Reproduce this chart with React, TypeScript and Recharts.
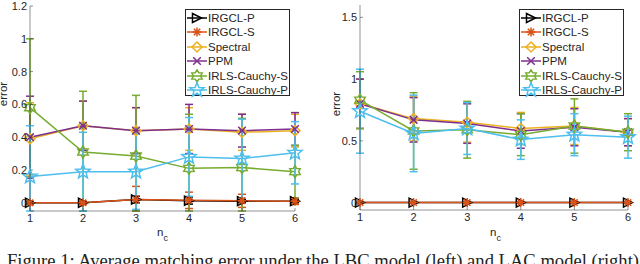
import React from 'react'
import { LineChart, Line, XAxis, YAxis, ErrorBar } from 'recharts'

const nc = [1, 2, 3, 4, 5, 6]

// left panel: LBC model
const lbcIrgclP = [0.0, 0.0, 0.02, 0.012, 0.01, 0.01]
const lbcIrgclPErr = [0.005, 0.005, 0.02, 0.02, 0.01, 0.01]
const lbcIrgclS = [0.0, 0.0, 0.02, 0.015, 0.012, 0.01]
const lbcIrgclSErr = [0.01, 0.01, 0.08, 0.05, 0.04, 0.02]
const lbcSpectral = [0.39, 0.47, 0.44, 0.45, 0.43, 0.44]
const lbcSpectralErr = [0.22, 0.15, 0.14, 0.13, 0.11, 0.1]
const lbcPpm = [0.4, 0.47, 0.44, 0.45, 0.44, 0.45]
const lbcPpmErr = [0.25, 0.15, 0.14, 0.15, 0.1, 0.1]
const lbcCauchyS = [0.58, 0.31, 0.285, 0.21, 0.215, 0.19]
const lbcCauchySErr = [0.42, 0.37, 0.37, 0.33, 0.3, 0.16]
const lbcCauchyP = [0.16, 0.19, 0.19, 0.28, 0.27, 0.305]
const lbcCauchyPErr = [0.31, 0.24, 0.23, 0.24, 0.24, 0.19]

// right panel: LAC model
const lacIrgclP = [0, 0, 0, 0, 0, 0]
const lacIrgclPErr = [0, 0, 0, 0, 0, 0]
const lacIrgclS = [0, 0, 0, 0, 0, 0]
const lacIrgclSErr = [0, 0, 0, 0, 0, 0]
const lacSpectral = [0.8, 0.68, 0.65, 0.6, 0.62, 0.57]
const lacSpectralErr = [0.2, 0.18, 0.16, 0.13, 0.15, 0.11]
const lacPpm = [0.8, 0.67, 0.64, 0.58, 0.61, 0.57]
const lacPpmErr = [0.2, 0.18, 0.16, 0.14, 0.15, 0.11]
const lacCauchyS = [0.83, 0.58, 0.59, 0.55, 0.62, 0.57]
const lacCauchySErr = [0.23, 0.31, 0.23, 0.17, 0.22, 0.15]
const lacCauchyP = [0.74, 0.56, 0.6, 0.51, 0.55, 0.53]
const lacCauchyPErr = [0.34, 0.31, 0.21, 0.16, 0.17, 0.17]

const leftTicks = [0, 0.2, 0.4, 0.6, 0.8, 1, 1.2]
const rightTicks = [0, 0.5, 1, 1.5]
const leftDomain = [-0.05, 1.2]
const rightDomain = [-0.06, 1.6]

const caption = 'Figure 1: Average matching error under the LBC model (left) and LAC model (right)'

const series = [
  { key: 'irgclP', name: 'IRGCL-P', color: '#000000', marker: 'triangle' },
  { key: 'irgclS', name: 'IRGCL-S', color: '#D95319', marker: 'asterisk' },
  { key: 'spectral', name: 'Spectral', color: '#EDB120', marker: 'diamond' },
  { key: 'ppm', name: 'PPM', color: '#7E2F8E', marker: 'cross' },
  { key: 'cauchyS', name: 'IRLS-Cauchy-S', color: '#77AC30', marker: 'hexagram' },
  { key: 'cauchyP', name: 'IRLS-Cauchy-P', color: '#4DBEEE', marker: 'pentagram' },
]

// error bars are clipped to the axes box, like matlab does
const buildRows = (vals: number[][], errs: number[][], domain: number[]) =>
  nc.map((n, i) => {
    const row: any = { nc: n }
    series.forEach((s, j) => {
      const v = vals[j][i]
      const e = errs[j][i]
      row[s.key] = v
      row[s.key + 'Err'] = [Math.min(e, v - domain[0]), Math.min(e, domain[1] - v)]
    })
    return row
  })

const lbcData = buildRows(
  [lbcIrgclP, lbcIrgclS, lbcSpectral, lbcPpm, lbcCauchyS, lbcCauchyP],
  [lbcIrgclPErr, lbcIrgclSErr, lbcSpectralErr, lbcPpmErr, lbcCauchySErr, lbcCauchyPErr],
  leftDomain
)
const lacData = buildRows(
  [lacIrgclP, lacIrgclS, lacSpectral, lacPpm, lacCauchyS, lacCauchyP],
  [lacIrgclPErr, lacIrgclSErr, lacSpectralErr, lacPpmErr, lacCauchySErr, lacCauchyPErr],
  rightDomain
)

const font = '"Liberation Sans", Arial, sans-serif'
const axisColor = '#262626'

const star = (cx: number, cy: number, n: number, r: number, ri: number) => {
  const pts: string[] = []
  for (let i = 0; i < n * 2; i++) {
    const a = -Math.PI / 2 + (i * Math.PI) / n
    const rr = i % 2 === 0 ? r : ri
    pts.push(`${cx + rr * Math.cos(a)},${cy + rr * Math.sin(a)}`)
  }
  return pts.join(' ')
}

function Marker({ cx, cy, type, color }: any) {
  const sw = 1.5
  if (type === 'triangle') {
    const s = 4.5
    return <polygon points={`${cx + s},${cy} ${cx - s},${cy - s} ${cx - s},${cy + s}`} fill="none" stroke={color} strokeWidth={sw} />
  }
  if (type === 'asterisk') {
    const s = 4.5
    const d = s * 0.72
    return (
      <path d={`M${cx - s},${cy}L${cx + s},${cy}M${cx},${cy - s}L${cx},${cy + s}M${cx - d},${cy - d}L${cx + d},${cy + d}M${cx - d},${cy + d}L${cx + d},${cy - d}`} stroke={color} strokeWidth={sw} />
    )
  }
  if (type === 'diamond') {
    const s = 5
    return <polygon points={`${cx},${cy - s} ${cx + s},${cy} ${cx},${cy + s} ${cx - s},${cy}`} fill="none" stroke={color} strokeWidth={sw} />
  }
  if (type === 'cross') {
    const s = 3.8
    return <path d={`M${cx - s},${cy - s}L${cx + s},${cy + s}M${cx - s},${cy + s}L${cx + s},${cy - s}`} stroke={color} strokeWidth={sw} />
  }
  if (type === 'hexagram') {
    return <polygon points={star(cx, cy, 6, 6, 3.6)} fill="none" stroke={color} strokeWidth={sw} />
  }
  return <polygon points={star(cx, cy, 5, 7.5, 3.2)} fill="none" stroke={color} strokeWidth={sw} />
}

const BottomTick = ({ x, y, payload }: any) => (
  <g>
    <line x1={x} x2={x} y1={y} y2={y - 3} stroke={axisColor} strokeWidth={0.5} />
    <text x={x} y={y + 11} textAnchor="middle" fontSize={11} fontFamily={font} fill={axisColor}>
      {payload.value}
    </text>
  </g>
)

const TopTick = ({ x, y }: any) => (
  <line x1={x} x2={x} y1={y} y2={y + 3} stroke={axisColor} strokeWidth={0.5} />
)

const LeftTick = ({ x, y, payload }: any) => (
  <g>
    <line x1={x} x2={x + 3} y1={y} y2={y} stroke={axisColor} strokeWidth={0.5} />
    <text x={x - 3} y={y + 4} textAnchor="end" fontSize={11} fontFamily={font} fill={axisColor}>
      {payload.value}
    </text>
  </g>
)

const RightTick = ({ x, y }: any) => (
  <line x1={x} x2={x - 3} y1={y} y2={y} stroke={axisColor} strokeWidth={0.5} />
)

function Panel({ data, domain, ticks, left, margin, yWidth }: any) {
  return (
    <div style={{ position: 'absolute', left, top: 0 }}>
      <LineChart width={320} height={264} data={data} margin={margin}>
        <XAxis
          dataKey="nc"
          type="number"
          domain={[1, 6]}
          ticks={nc}
          height={20}
          tickSize={0}
          tickMargin={0}
          tickLine={false}
          stroke={axisColor}
          strokeWidth={0.5}
          tick={<BottomTick />}
          interval={0}
        />
        <XAxis
          xAxisId="top"
          orientation="top"
          dataKey="nc"
          type="number"
          domain={[1, 6]}
          ticks={nc}
          height={0}
          tickSize={0}
          tickMargin={0}
          tickLine={false}
          stroke={axisColor}
          strokeWidth={0.5}
          tick={<TopTick />}
          interval={0}
        />
        <YAxis
          type="number"
          domain={domain}
          ticks={ticks}
          width={yWidth}
          tickSize={0}
          tickMargin={0}
          tickLine={false}
          stroke={axisColor}
          strokeWidth={0.5}
          tick={<LeftTick />}
          interval={0}
          allowDataOverflow
        />
        <YAxis
          yAxisId="right"
          orientation="right"
          type="number"
          domain={domain}
          ticks={ticks}
          width={0}
          tickSize={0}
          tickMargin={0}
          tickLine={false}
          stroke={axisColor}
          strokeWidth={0.5}
          tick={<RightTick />}
          interval={0}
          allowDataOverflow
        />
        {series.map((s) => (
          <Line
            key={s.key}
            dataKey={s.key}
            name={s.name}
            stroke={s.color}
            strokeWidth={1.5}
            isAnimationActive={false}
            activeDot={false}
            dot={(p: any) => <Marker key={`${s.key}-${p.index}`} cx={p.cx} cy={p.cy} type={s.marker} color={s.color} />}
          >
            <ErrorBar dataKey={s.key + 'Err'} width={4} stroke={s.color} strokeWidth={1.5} />
          </Line>
        ))}
      </LineChart>
    </div>
  )
}

function LegendBox({ left, top }: any) {
  return (
    <div
      style={{
        position: 'absolute',
        left,
        top,
        width: 105,
        height: 87,
        border: `0.5px solid ${axisColor}`,
        background: '#fff',
        boxSizing: 'border-box',
      }}
    >
      {series.map((s, i) => (
        <div key={s.key} style={{ position: 'absolute', left: 0, top: 1 + i * 14.4, height: 14, display: 'flex', alignItems: 'center' }}>
          <svg width={22} height={14} style={{ overflow: 'visible' }}>
            <line x1={1} x2={21} y1={7} y2={7} stroke={s.color} strokeWidth={1.5} />
            <Marker cx={11} cy={7} type={s.marker} color={s.color} />
          </svg>
          <span style={{ fontFamily: font, fontSize: 11.5, color: axisColor, whiteSpace: 'nowrap' }}>{s.name}</span>
        </div>
      ))}
    </div>
  )
}

export default function App() {
  return (
    <div style={{ position: 'fixed', left: 0, top: 0, width: 640, height: 264, overflow: 'hidden', background: '#fff' }}>
      <Panel data={lbcData} domain={leftDomain} ticks={leftTicks} left={0} yWidth={30} margin={{ top: 6, right: 25, bottom: 33, left: 0 }} />
      <Panel data={lacData} domain={rightDomain} ticks={rightTicks} left={320} yWidth={40} margin={{ top: 5, right: 12, bottom: 34, left: 0 }} />
      <LegendBox left={185} top={9} />
      <LegendBox left={519} top={9} />
      <svg width={640} height={264} style={{ position: 'absolute', left: 0, top: 0, pointerEvents: 'none' }}>
        <g fontFamily={font} fill={axisColor}>
          <text x={7} y={94} fontSize={11.5} textAnchor="middle" transform="rotate(-90 7 94)">error</text>
          <text x={340} y={104} fontSize={11.5} textAnchor="middle" transform="rotate(-90 340 104)">error</text>
          <text x={157} y={236} fontSize={11.5}>n</text>
          <text x={163.5} y={241} fontSize={9}>c</text>
          <text x={490} y={236} fontSize={11.5}>n</text>
          <text x={496.5} y={241} fontSize={9}>c</text>
        </g>
        <text
          x={7}
          y={267}
          fontSize={18.5}
          fontFamily={'"Liberation Serif", "Times New Roman", serif'}
          fill="#222"
          textLength={632}
          lengthAdjust="spacingAndGlyphs"
        >
          {caption}
        </text>
      </svg>
    </div>
  )
}
